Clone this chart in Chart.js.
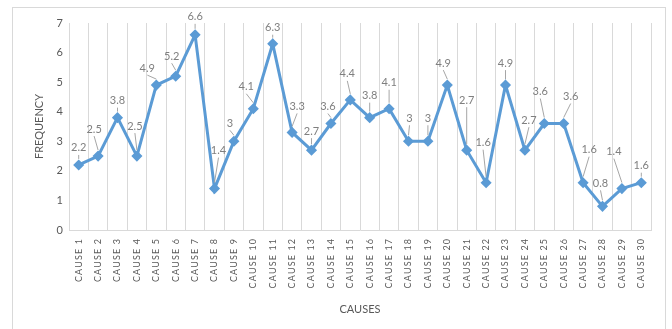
<!DOCTYPE html>
<html>
<head>
<meta charset="utf-8">
<script src="https://cdn.jsdelivr.net/npm/chart.js@4/dist/chart.umd.min.js"></script>
<style>
  html, body { margin: 0; padding: 0; background: #fff; }
  #wrap { width: 672px; height: 329px; }
</style>
</head>
<body>
<div id="wrap"><canvas id="causes-chart" width="672" height="329"></canvas></div>
<script>
  const causes = ['CAUSE 1','CAUSE 2','CAUSE 3','CAUSE 4','CAUSE 5','CAUSE 6','CAUSE 7','CAUSE 8','CAUSE 9','CAUSE 10',
                  'CAUSE 11','CAUSE 12','CAUSE 13','CAUSE 14','CAUSE 15','CAUSE 16','CAUSE 17','CAUSE 18','CAUSE 19','CAUSE 20',
                  'CAUSE 21','CAUSE 22','CAUSE 23','CAUSE 24','CAUSE 25','CAUSE 26','CAUSE 27','CAUSE 28','CAUSE 29','CAUSE 30'];
  const frequency = [2.2, 2.5, 3.8, 2.5, 4.9, 5.2, 6.6, 1.4, 3, 4.1,
                     6.3, 3.3, 2.7, 3.6, 4.4, 3.8, 4.1, 3, 3, 4.9,
                     2.7, 1.6, 4.9, 2.7, 3.6, 3.6, 1.6, 0.8, 1.4, 1.6];
  const yTicks = [0, 1, 2, 3, 4, 5, 6, 7];

  // where each value label sits relative to its marker (px), leader line drawn back to the marker
  const labelNudge = [[0,-17],[-4,-27],[0,-17],[-2,-30],[-9,-17],[-4,-20],[0,-18],[4,-38],[-4,-18],[-7,-22],
                      [0,-16],[5,-26],[0,-19],[-3,-17],[-3,-26],[0,-22],[0,-26],[1,-23],[0,-23],[-4,-22],
                      [0,-50],[-3,-40],[0,-22],[4,-30],[-4,-32],[7,-27],[6,-33],[-2,-23],[-8,-37],[0,-17]];

  const FONT = 'Lato, Carlito, "Liberation Sans", sans-serif';
  const LINE_BLUE = '#5b9bd5';
  const GRID = '#d9d9d9';

  const frame = {
    id: 'frame',
    beforeDraw(chart) {
      const ctx = chart.ctx;
      ctx.save();
      ctx.fillStyle = '#fff';
      ctx.fillRect(0, 0, chart.width, chart.height);
      ctx.strokeStyle = GRID;
      ctx.lineWidth = 1;
      ctx.strokeRect(12.5, 7.5, 653, 340);
      ctx.restore();
    }
  };

  const valueLabels = {
    id: 'valueLabels',
    afterDatasetsDraw(chart) {
      const ctx = chart.ctx;
      const meta = chart.getDatasetMeta(0);
      ctx.save();
      ctx.font = '11px ' + FONT;
      ctx.textAlign = 'center';
      ctx.textBaseline = 'middle';
      meta.data.forEach((pt, i) => {
        const [dx, dy] = labelNudge[i];
        const lx = pt.x + dx, ly = pt.y + dy;
        const y0 = ly + 7, y1 = pt.y - 6;
        if (y1 - y0 > 1) {
          ctx.strokeStyle = '#a6a6a6';
          ctx.lineWidth = 1;
          ctx.beginPath();
          ctx.moveTo(lx, y0);
          ctx.lineTo(pt.x, y1);
          ctx.stroke();
        }
        ctx.fillStyle = '#7f7f7f';
        ctx.fillText(String(frequency[i]), lx, ly);
      });
      ctx.restore();
    }
  };

  new Chart(document.getElementById('causes-chart').getContext('2d'), {
    type: 'line',
    data: {
      labels: causes,
      datasets: [{
        label: 'Frequency',
        data: frequency,
        borderColor: LINE_BLUE,
        backgroundColor: LINE_BLUE,
        borderWidth: 3,
        tension: 0,
        pointStyle: 'rectRot',
        pointRadius: 4.5,
        pointBorderWidth: 1.5,
        pointBackgroundColor: LINE_BLUE,
        pointBorderColor: LINE_BLUE
      }]
    },
    options: {
      responsive: false,
      animation: false,
      devicePixelRatio: 1,
      layout: { padding: { left: 20, right: 21, top: 23, bottom: 0 } },
      plugins: {
        legend: { display: false },
        tooltip: { enabled: false }
      },
      scales: {
        x: {
          type: 'category',
          offset: true,
          grid: { offset: true, color: GRID, lineWidth: 1, drawTicks: false },
          border: { color: GRID },
          ticks: {
            autoSkip: false,
            minRotation: 90,
            maxRotation: 90,
            padding: 9,
            color: '#595959',
            font: { family: FONT, size: 9 },
            // spaced-out lettering on the category names
            callback: (v, i) => causes[i].split('').join('\u2009')
          },
          title: {
            display: true,
            text: 'CAUSES',
            color: '#595959',
            font: { family: FONT, size: 11 },
            padding: { top: 0, bottom: 13 }
          },
          afterFit: s => { s.height = 99; }
        },
        y: {
          min: 0,
          max: 7,
          afterBuildTicks: s => { s.ticks = yTicks.map(v => ({ value: v })); },
          grid: { display: false, drawTicks: false },
          border: { display: false },
          ticks: {
            padding: 6,
            color: '#595959',
            font: { family: FONT, size: 11 }
          },
          title: {
            display: true,
            text: 'FREQUENCY',
            color: '#595959',
            font: { family: FONT, size: 11 },
            padding: { top: 13, bottom: 0 }
          },
          afterFit: s => { s.width = 49; }
        }
      }
    },
    plugins: [frame, valueLabels]
  });
</script>
</body>
</html>
